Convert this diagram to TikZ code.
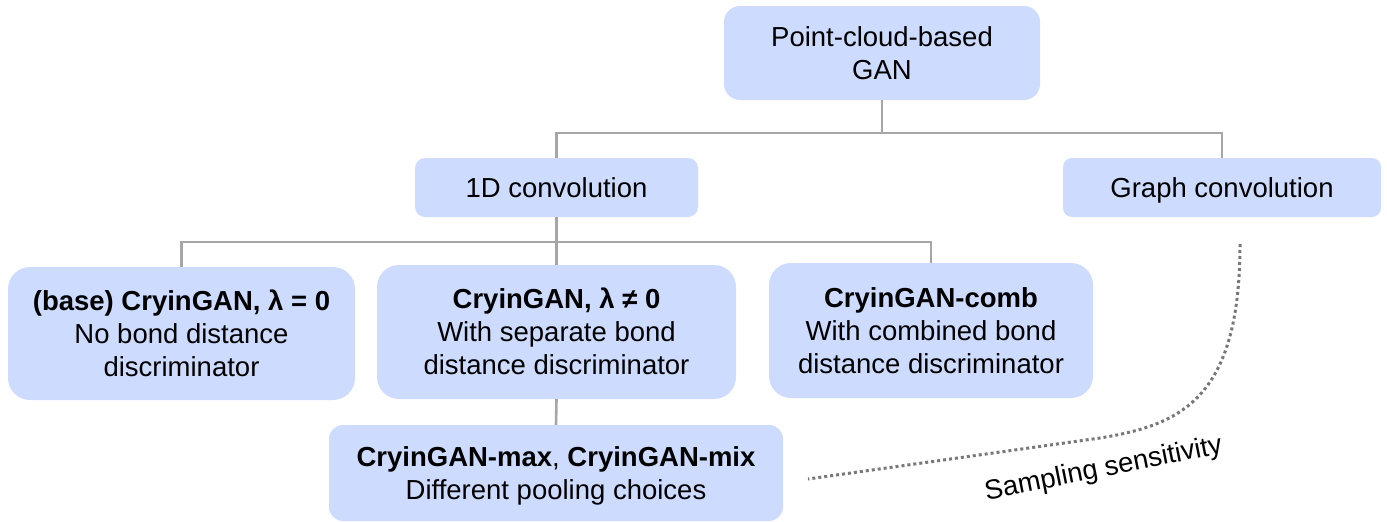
\documentclass[tikz,border=0pt]{standalone}
\usepackage{fontspec}
\setmainfont{Liberation Sans}
\definecolor{boxfill}{RGB}{205,219,255}
\definecolor{conncol}{RGB}{166,166,166}
\definecolor{dotcol}{RGB}{120,120,120}
\newcommand\firstln[1]{\rule{0pt}{19.7pt}\smash{#1}}
\newcommand\nextln[1]{\smash{#1}}
\tikzset{
  box/.style={rectangle, fill=boxfill, draw=none, inner sep=0pt, align=center,
    font=\fontsize{27.5}{33}\selectfont},
  conn/.style={draw=conncol, line width=2.6pt},
  dotline/.style={draw=dotcol, line width=3pt, dash pattern=on 3pt off 3pt},
  lbl/.style={font=\fontsize{27.5}{33}\selectfont, inner sep=0pt}
}
\begin{document}
\begin{tikzpicture}[x=1pt,y=-1pt]
\useasboundingbox (0,0) rectangle (1387,522);
% nodes
\node[box, rounded corners=16pt, minimum width=316pt, minimum height=94pt] (top) at (882,53) {\firstln{Point-cloud-based}\\\nextln{GAN}};
\node[box, rounded corners=10pt, minimum width=283pt, minimum height=59pt] (conv1) at (556.5,187.5) {\firstln{1D convolution}};
\node[box, rounded corners=9pt, minimum width=318pt, minimum height=59pt] (graph) at (1222,187.5) {\firstln{Graph convolution}};
\node[box, rounded corners=22pt, minimum width=347pt, minimum height=133pt] (base) at (181.5,333.5) {\firstln{\textbf{(base) CryinGAN, λ = 0}}\\\nextln{No bond distance}\\\nextln{discriminator}};
\node[box, rounded corners=22pt, minimum width=359pt, minimum height=134pt] (sep) at (556.5,332) {\firstln{\textbf{CryinGAN, λ ≠ 0}}\\\nextln{With separate bond}\\\nextln{distance discriminator}};
\node[box, rounded corners=22pt, minimum width=324pt, minimum height=135pt] (comb) at (931,330.5) {\firstln{\textbf{CryinGAN-comb}}\\\nextln{With combined bond}\\\nextln{distance discriminator}};
\node[box, rounded corners=14pt, minimum width=454pt, minimum height=96pt] (pool) at (556,473) {\firstln{\textbf{CryinGAN-max}, \textbf{CryinGAN-mix}}\\\nextln{Different pooling choices}};
% connector levels
\coordinate (h1) at (0,133);
\coordinate (h2) at (0,242);
\draw[conn] (top.south) -- (top.south |- h1);
\draw[conn] (conv1.north) |- (graph.north |- h1) -- (graph.north);
\draw[conn] (conv1.south) -- (conv1.south |- h2);
\draw[conn] (base.north) |- (comb.north |- h2) -- (comb.north);
\draw[conn] (sep.north) -- (sep.north |- h2);
\draw[conn] (sep.south) -- (pool.north);
% sampling sensitivity
\coordinate (s1) at (1240,244);
\coordinate (s2) at (1100,438);
\coordinate (s3) at (808,479);
\draw[dotline] (s1) .. controls (1240,400) and (1180,425) .. (s2) -- (s3);
\node[lbl, anchor=base, rotate=11.3] (samp) at (1105,476.5) {Sampling sensitivity};
\end{tikzpicture}
\end{document}
